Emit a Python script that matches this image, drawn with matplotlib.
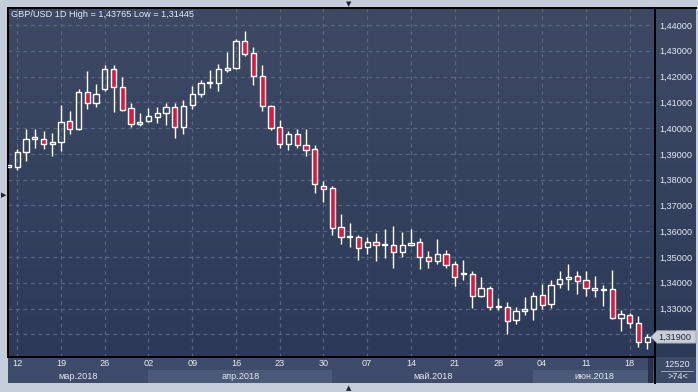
import matplotlib
matplotlib.use("Agg")
import matplotlib.pyplot as plt
import matplotlib.transforms as mtransforms
from matplotlib.patches import Rectangle, Polygon
from matplotlib.collections import LineCollection
from matplotlib.colors import LinearSegmentedColormap
import numpy as np
import pandas as pd

# daily GBP/USD candles, 9 Mar 2018 .. 20 Jun 2018
dates = pd.bdate_range("2018-03-09", "2018-06-20")
opens = [1.3851, 1.3851, 1.3907, 1.3959, 1.3959, 1.3938,
         1.3945, 1.4027, 1.3996, 1.4139, 1.4097,
         1.4153, 1.4228, 1.4159, 1.4077, 1.4023,
         1.4029, 1.4045, 1.4058, 1.4081, 1.4003,
         1.4089, 1.4131, 1.4175, 1.4176, 1.4226,
         1.4234, 1.4337, 1.4290, 1.4201, 1.4085,
         1.4003, 1.3938, 1.3976, 1.3934, 1.3918,
         1.3775, 1.3767, 1.3616, 1.3577, 1.3577,
         1.3537, 1.3558, 1.3546, 1.3546, 1.3519,
         1.3546, 1.3558, 1.3500, 1.3485, 1.3512,
         1.3474, 1.3433, 1.3434, 1.3347, 1.3380,
         1.3306, 1.3307, 1.3255, 1.3290, 1.3298,
         1.3352, 1.3317, 1.3395, 1.3414, 1.3426,
         1.3410, 1.3379, 1.3372, 1.3376, 1.3263,
         1.3275, 1.3245, 1.3172]
highs = [1.3858, 1.3919, 1.3996, 1.3996, 1.3989, 1.3981,
         1.4090, 1.4067, 1.4152, 1.4222, 1.4171,
         1.4245, 1.4245, 1.4198, 1.4099, 1.4059,
         1.4077, 1.4080, 1.4099, 1.4099, 1.4109,
         1.4164, 1.4187, 1.4226, 1.4249, 1.4294,
         1.4346, 1.43765, 1.4315, 1.4245, 1.4090,
         1.4032, 1.3989, 1.3997, 1.3997, 1.3934,
         1.3795, 1.3775, 1.3667, 1.3633, 1.3586,
         1.3578, 1.3594, 1.3609, 1.3621, 1.3598,
         1.3609, 1.3574, 1.3524, 1.3571, 1.3527,
         1.3483, 1.3489, 1.3445, 1.3422, 1.3388,
         1.3341, 1.3325, 1.3306, 1.3345, 1.3364,
         1.3396, 1.3410, 1.3445, 1.3474, 1.3444,
         1.3445, 1.3427, 1.3391, 1.3449, 1.3295,
         1.3282, 1.3273, 1.3202]
lows = [1.3849, 1.3838, 1.3874, 1.3924, 1.3920, 1.3890,
        1.3913, 1.3978, 1.3994, 1.4074, 1.4083,
        1.4145, 1.4064, 1.4068, 1.4003, 1.4010,
        1.4025, 1.4021, 1.4014, 1.3963, 1.3978,
        1.4076, 1.4120, 1.4157, 1.4145, 1.4219,
        1.4230, 1.4281, 1.4169, 1.4068, 1.3994,
        1.3921, 1.3915, 1.3921, 1.3893, 1.3748,
        1.3712, 1.3586, 1.3551, 1.3537, 1.3488,
        1.3511, 1.3483, 1.3498, 1.3459, 1.3499,
        1.3541, 1.3452, 1.3456, 1.3472, 1.3456,
        1.3388, 1.3411, 1.3304, 1.3343, 1.3293,
        1.3295, 1.3200, 1.3241, 1.3276, 1.3255,
        1.3298, 1.3302, 1.3380, 1.3372, 1.3356,
        1.3347, 1.3345, 1.3310, 1.3259, 1.3211,
        1.3225, 1.3150, 1.31445]
closes = [1.3857, 1.3907, 1.3959, 1.3961, 1.3938, 1.3945,
          1.4023, 1.3996, 1.4139, 1.4097, 1.4131,
          1.4228, 1.4159, 1.4072, 1.4016, 1.4015,
          1.4046, 1.4058, 1.4081, 1.4003, 1.4085,
          1.4131, 1.4174, 1.4177, 1.4228, 1.4234,
          1.4337, 1.4286, 1.4201, 1.4085, 1.4000,
          1.3938, 1.3976, 1.3934, 1.3917, 1.3783,
          1.3762, 1.3614, 1.3577, 1.3579, 1.3535,
          1.3558, 1.3546, 1.3548, 1.3519, 1.3546,
          1.3554, 1.3500, 1.3485, 1.3512, 1.3468,
          1.3423, 1.3435, 1.3347, 1.3380, 1.3306,
          1.3308, 1.3253, 1.3290, 1.3298, 1.3348,
          1.3314, 1.3391, 1.3414, 1.3422, 1.3407,
          1.3379, 1.3372, 1.3374, 1.3263, 1.3280,
          1.3245, 1.3172, 1.3190]

price_ticks = [1.32, 1.33, 1.34, 1.35, 1.36, 1.37, 1.38, 1.39,
               1.40, 1.41, 1.42, 1.43, 1.44]
hidden_ticks = [1.32]
last_price = 1.319
month_names = ["мар.2018", "апр.2018", "май.2018", "июн.2018"]
title = "GBP/USD 1D High = 1,43765 Low = 1,31445"
volume_text = "12520"
count_text = ">74<"

W, H = 698, 392
FONT = ["Liberation Sans", "DejaVu Sans"]
plt.rcParams["font.family"] = FONT
FS = 6.6
TXT = "#e4e9f2"
RED = "#e0163c"
GRID = "#58657f"
BG_TOP = "#3e4a64"
BG_BOT = "#2c3a58"


def px(x0, y0, x1, y1):
    return [x0 / W, 1 - y1 / H, (x1 - x0) / W, (y1 - y0) / H]


def fmt(v):
    return f"{v:.5f}".replace(".", ",")


fig = plt.figure(figsize=(W / 100, H / 100), dpi=100, facecolor="#c4cdd9")
bg_cmap = LinearSegmentedColormap.from_list("bg", [BG_TOP, BG_BOT])
grad = np.linspace(0, 1, 256).reshape(-1, 1)

axr = fig.add_axes(px(655, 8, 696, 357))
axd = fig.add_axes(px(8, 357, 655, 383))
axb = fig.add_axes(px(655, 357, 696, 383))
ax = fig.add_axes(px(8, 8, 655, 357))
ax.set_zorder(5)

n = len(dates)
xs = np.arange(n)
xlim = (-0.06, 73.9)
ylim = (1.3112, 1.4466)

# backgrounds
for a in (ax, axr):
    a.imshow(grad, cmap=bg_cmap, extent=[0, 1, 0, 1], transform=a.transAxes,
             aspect="auto", zorder=0)

# grid
mondays = [i for i, d in enumerate(dates) if d.weekday() == 0]
for i in mondays:
    ax.axvline(i, color=GRID, lw=0.9, ls=(0, (3, 3)), zorder=1)
for p in price_ticks:
    ax.axhline(p, color=GRID, lw=0.9, ls=(0, (3, 3)), zorder=1)

# candles
segs = []
for i in range(n):
    o, h, l, c = opens[i], highs[i], lows[i], closes[i]
    top, bot = max(o, c), min(o, c)
    segs.append([(xs[i], top), (xs[i], h)])
    segs.append([(xs[i], l), (xs[i], bot)])
    body = Rectangle((xs[i] - 0.3, bot), 0.6, max(top - bot, 0.0005),
                     facecolor=RED if c < o else "none", edgecolor="white",
                     lw=1.0, zorder=3)
    ax.add_patch(body)
ax.add_collection(LineCollection(segs, colors="white", linewidths=1.0, zorder=2))

ax.set_xlim(*xlim)
ax.set_ylim(*ylim)
ax.set_xticks([])
ax.yaxis.tick_right()
ax.set_yticks(price_ticks)
ax.set_yticklabels(["" if p in hidden_ticks else fmt(p) for p in price_ticks])
ax.tick_params(axis="y", length=0, pad=3, labelsize=FS, labelcolor=TXT)
for s in ax.spines.values():
    s.set_color("black")
    s.set_linewidth(1.4)
ax.text(0.004, 0.981, title, transform=ax.transAxes, color=TXT, fontsize=FS,
        ha="left", va="center", zorder=5)

axr.set_xticks([])
axr.set_yticks([])
for k, s in axr.spines.items():
    s.set_visible(k == "top")
    s.set_color("black")
    s.set_linewidth(1.4)

# current price tag
tr = mtransforms.blended_transform_factory(fig.transFigure, ax.transData)
dh = 6.2 / 2575
tag = Polygon([(651 / W, last_price), (657 / W, last_price + dh),
               (696 / W, last_price + dh), (696 / W, last_price - dh),
               (657 / W, last_price - dh)], closed=True, transform=tr,
              facecolor="#c9ced8", edgecolor="#9aa3b3", lw=0.6,
              clip_on=False, zorder=6)
ax.add_patch(tag)
ax.text(658 / W, last_price, fmt(last_price), transform=tr, color="#1f2a3d",
        fontsize=FS, ha="left", va="center", clip_on=False, zorder=7)

# date strip
axd.set_facecolor("#3e4c69")
axd.set_xlim(*xlim)
axd.set_ylim(0, 1)
axd.set_xticks([])
axd.set_yticks([])
for s in axd.spines.values():
    s.set_visible(False)
month_start = [0] + [i for i in range(1, n) if dates[i].month != dates[i - 1].month]
month_end = month_start[1:] + [xlim[1]]
for k, (a0, a1) in enumerate(zip(month_start, month_end)):
    lo = xlim[0] if k == 0 else a0
    if k % 2 == 1:
        axd.add_patch(Rectangle((lo, 0), a1 - lo, 0.5, facecolor="#4b5a77",
                                edgecolor="none", zorder=1))
    axd.text((lo + a1) / 2, 0.24, month_names[k], color=TXT, fontsize=FS,
             ha="center", va="center", zorder=3)
for i in mondays:
    axd.text(i, 0.74, f"{dates[i].day:02d}", color=TXT, fontsize=FS,
             ha="center", va="center", zorder=3)
axd.add_patch(Rectangle((73.1, 0), 0.6, 1, facecolor="#27324a",
                        edgecolor="none", zorder=2))

# count box
axb.set_facecolor("#3c4a67")
axb.set_xlim(0, 1)
axb.set_ylim(0, 1)
axb.set_xticks([])
axb.set_yticks([])
for k, s in axb.spines.items():
    s.set_visible(k == "left")
    s.set_color("black")
    s.set_linewidth(1.4)
axb.text(0.55, 0.73, volume_text, color=TXT, fontsize=FS, ha="center", va="center")
axb.plot([0.15, 0.93], [0.48, 0.48], color="#9aa6ba", lw=0.7)
axb.text(0.55, 0.24, count_text, color=TXT, fontsize=FS, ha="center", va="center")

# scroll handles
fig.text(349 / W, 1 - 4 / H, "▼", family="DejaVu Sans", fontsize=5,
         color="#1c2230", ha="center", va="center")
fig.text(349 / W, 1 - 388.5 / H, "▲", family="DejaVu Sans", fontsize=5,
         color="#1c2230", ha="center", va="center")
fig.text(3.5 / W, 1 - 195 / H, "▶", family="DejaVu Sans", fontsize=5,
         color="#1c2230", ha="center", va="center")

fig.savefig("out.png", dpi=100, facecolor=fig.get_facecolor())
